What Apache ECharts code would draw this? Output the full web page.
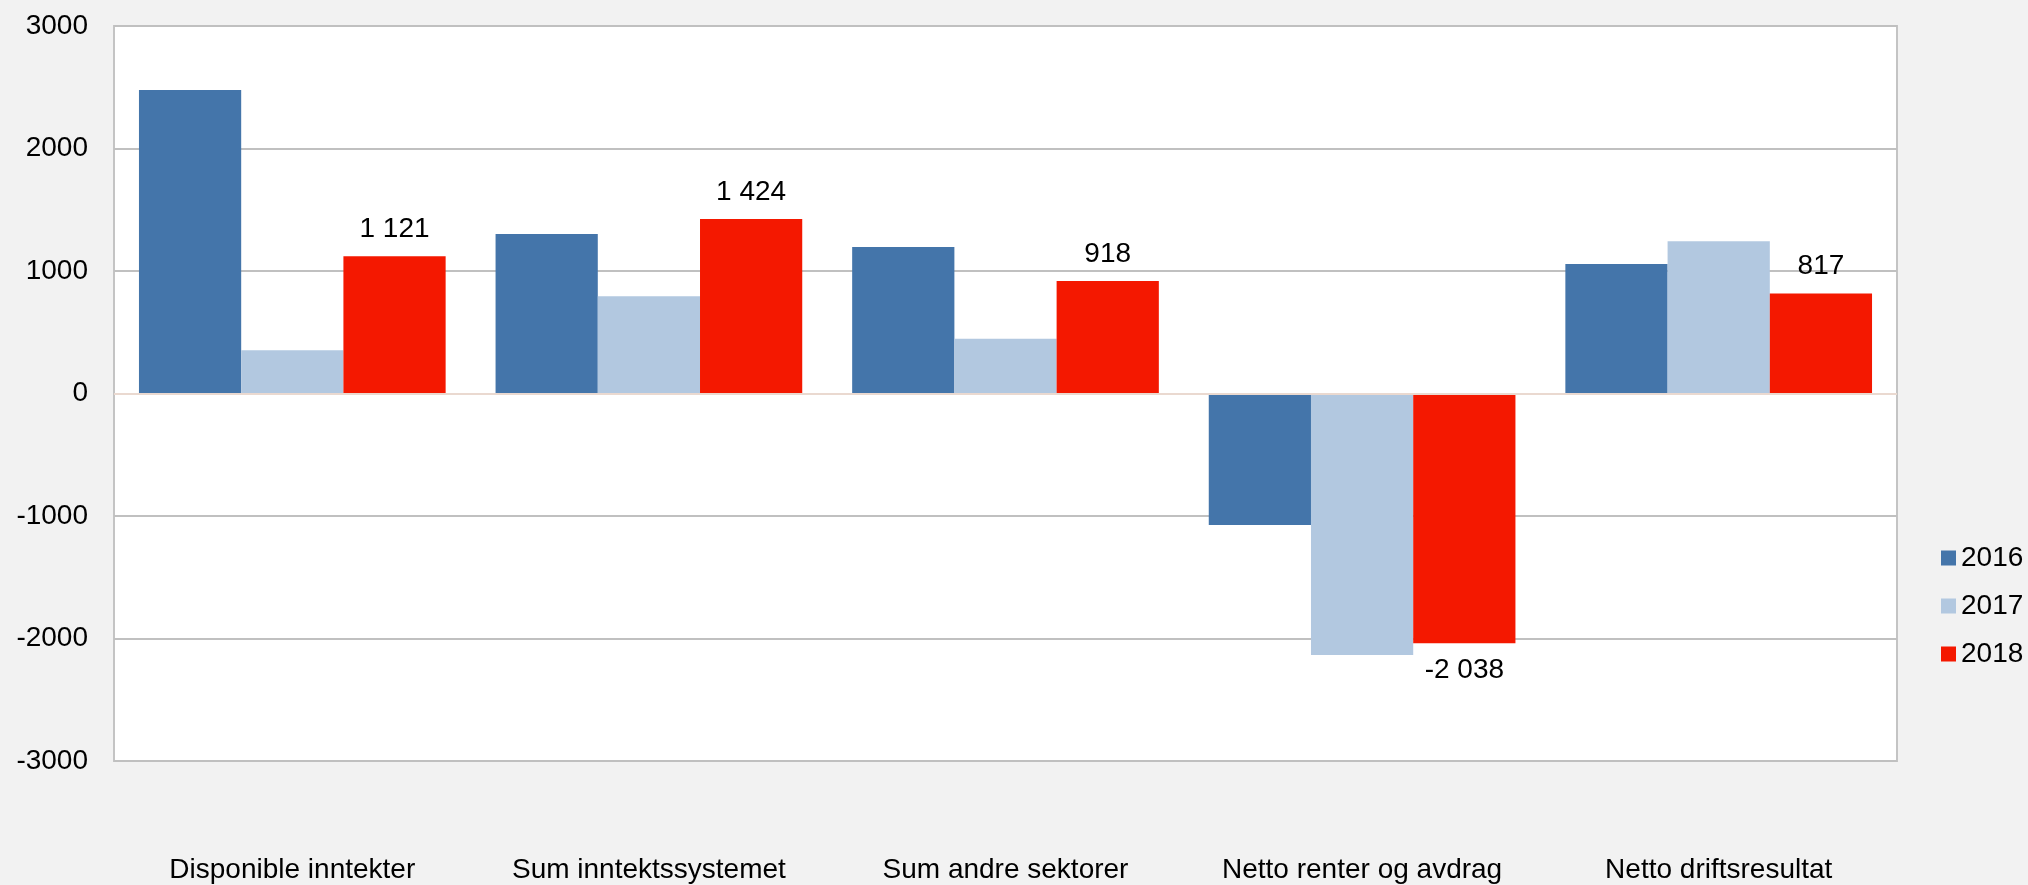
<!DOCTYPE html>
<html>
<head>
<meta charset="utf-8">
<script src="https://cdn.jsdelivr.net/npm/echarts@6/dist/echarts.min.js"></script>
<style>
  html, body { margin: 0; padding: 0; background: #f2f2f2; }
  #chart { width: 2028px; height: 885px; }
</style>
</head>
<body>
<div id="chart"></div>
<script>
// kategorier og verdier (lest av figuren)
var categories = ["Disponible inntekter", "Sum inntektssystemet", "Sum andre sektorer", "Netto renter og avdrag", "Netto driftsresultat"];
var years = ["2016", "2017", "2018"];
var data2016 = [2478, 1302, 1196, -1073, 1057];
var data2017 = [353, 794, 446, -2135, 1242];
var data2018 = [1121, 1424, 918, -2038, 817];
var yTicks = [-3000, -2000, -1000, 0, 1000, 2000, 3000];

var colors = ["#4475aa", "#b2c8e0", "#f41800"];
var font = "'Liberation Sans', Arial, sans-serif";
var fs = 28;

// tusenskille med mellomrom, som i originalen
function fmt(v) {
  var s = String(Math.abs(v)).replace(/\B(?=(\d{3})+(?!\d))/g, " ");
  return (v < 0 ? "-" : "") + s;
}

var chart = echarts.init(document.getElementById("chart"));

var series = [data2016, data2017, data2018].map(function (arr, i) {
  var s = {
    name: years[i],
    type: "bar",
    barGap: "0%",
    barCategoryGap: "14%",
    itemStyle: { color: colors[i] },
    data: arr
  };
  if (i === 2) {
    // bare 2018 har dataetiketter
    s.data = arr.map(function (v) {
      return {
        value: v,
        label: { show: true, position: v < 0 ? "bottom" : "top" }
      };
    });
    s.label = {
      distance: 13,
      fontSize: fs,
      fontFamily: font,
      color: "#000",
      formatter: function (p) { return fmt(p.value); }
    };
  }
  if (i === 0) {
    // nullinje
    s.markLine = {
      silent: true,
      symbol: "none",
      label: { show: false },
      lineStyle: { color: "#ead9d0", width: 2, type: "solid" },
      data: [{ yAxis: 0 }]
    };
  }
  return s;
});

chart.setOption({
  backgroundColor: "#f2f2f2",
  animation: false,
  textStyle: { fontFamily: font },
  grid: {
    left: 114,
    top: 26,
    width: 1783,
    height: 735,
    show: true,
    backgroundColor: "#fff",
    borderColor: "#c4c4c4",
    borderWidth: 2
  },
  legend: {
    orient: "vertical",
    left: 1936,
    top: 539,
    itemWidth: 15,
    itemHeight: 15,
    itemGap: 20,
    icon: "rect",
    textStyle: { fontSize: fs, color: "#000", fontFamily: font },
    data: years
  },
  xAxis: {
    type: "category",
    data: categories,
    axisLine: { show: false },
    axisTick: { show: false },
    axisLabel: { fontSize: fs, color: "#000", margin: 95, fontFamily: font, interval: 0 }
  },
  yAxis: {
    type: "value",
    min: yTicks[0],
    max: yTicks[yTicks.length - 1],
    interval: 1000,
    axisLine: { show: false },
    axisTick: { show: false },
    axisLabel: {
      fontSize: fs, color: "#000", margin: 26, fontFamily: font,
      formatter: function (v) { return String(v); }
    },
    splitLine: { lineStyle: { color: "#c0c0c0", width: 2 } }
  },
  series: series
});
</script>
</body>
</html>
